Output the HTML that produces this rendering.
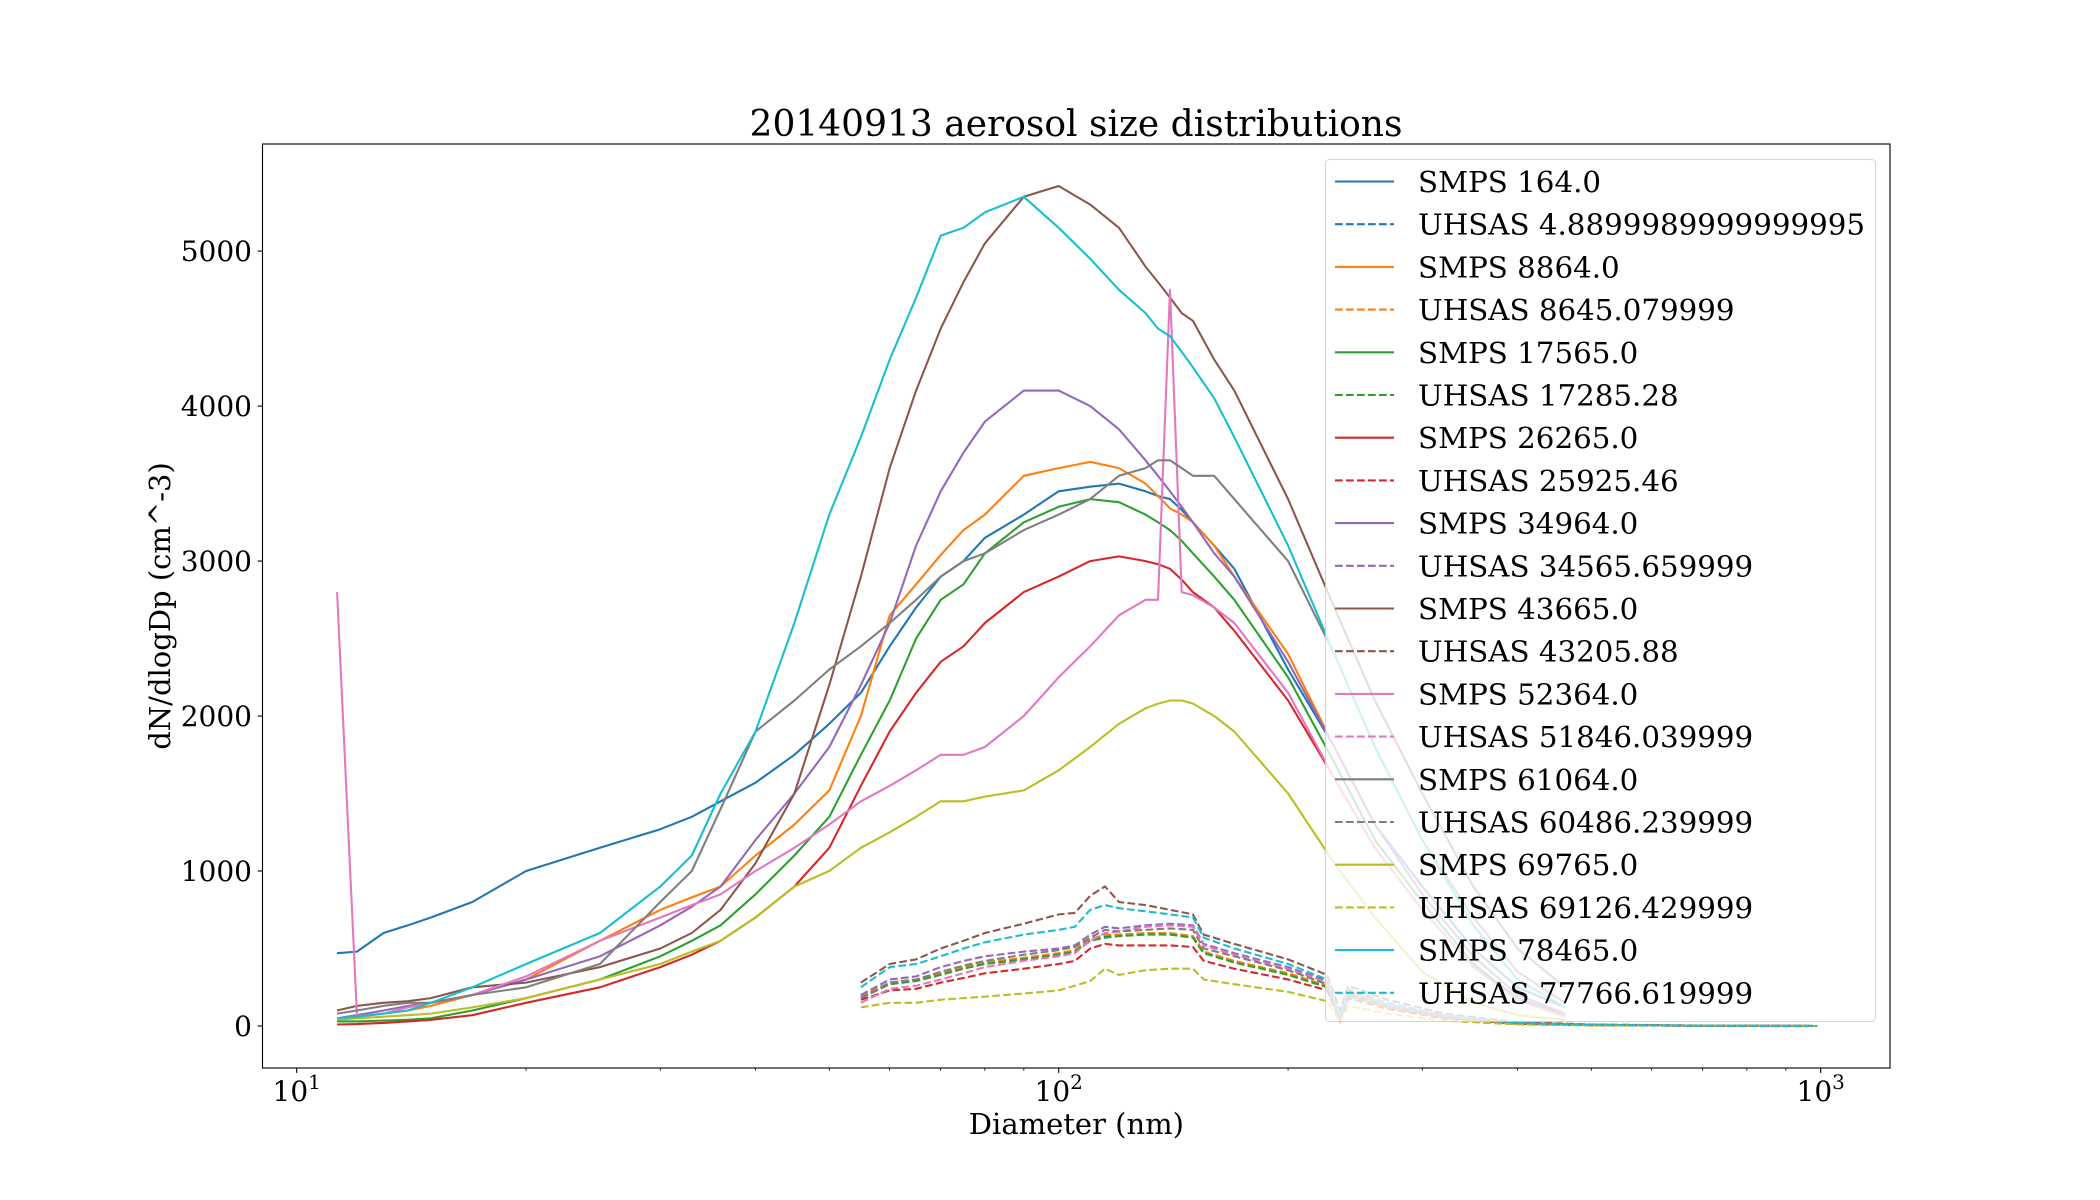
<!DOCTYPE html>
<html><head><meta charset="utf-8"><title>20140913 aerosol size distributions</title>
<style>html,body{margin:0;padding:0;background:#fff}svg{display:block}text{font-family:"DejaVu Serif","Liberation Serif",serif;fill:#000}</style>
</head><body>
<svg id="chart" width="2100" height="1200" viewBox="0 0 2100 1200" xmlns="http://www.w3.org/2000/svg">
<rect x="0" y="0" width="2100" height="1200" fill="#fff"/>
<defs><clipPath id="plotclip"><rect x="262.5" y="144" width="1627.5" height="924"/></clipPath></defs>
<text x="1076" y="136" font-size="36" text-anchor="middle">20140913 aerosol size distributions</text>
<g id="lines" clip-path="url(#plotclip)"></g>
<rect x="262.5" y="144" width="1627.5" height="924" fill="none" stroke="#000" stroke-width="1.1"/>
<g id="xticks"></g>
<g id="yticks"></g>
<text x="1076.4" y="1134" font-size="29" text-anchor="middle">Diameter (nm)</text>
<text x="0" y="0" font-size="29" text-anchor="middle" transform="translate(170,606) rotate(-90)">dN/dlogDp (cm^-3)</text>
<g id="legend"></g>
</svg>
<script>
// SMPS diameters (nm)
const smpsDiam = [11.3,12,13,14,15,17,20,25,30,33,36,40,45,50,55,60,65,70,75,80,90,100,110,120,130,135,140,145,150,160,170,200,230,260,300,350,400,462];
// UHSAS diameters (nm)
const uhsasDiam = [55,60,65,70,75,80,90,100,105,110,115,120,130,140,150,155,170,200,225,234,240,270,320,400,500,700,990];
const seriesNames = ["SMPS 164.0","UHSAS 4.8899989999999995","SMPS 8864.0","UHSAS 8645.079999","SMPS 17565.0","UHSAS 17285.28","SMPS 26265.0","UHSAS 25925.46","SMPS 34964.0","UHSAS 34565.659999","SMPS 43665.0","UHSAS 43205.88","SMPS 52364.0","UHSAS 51846.039999","SMPS 61064.0","UHSAS 60486.239999","SMPS 69765.0","UHSAS 69126.429999","SMPS 78465.0","UHSAS 77766.619999"];
const colors = ["#1f77b4","#ff7f0e","#2ca02c","#d62728","#9467bd","#8c564b","#e377c2","#7f7f7f","#bcbd22","#17becf"];
const smpsBlue   = [470,480,600,650,700,800,1000,1150,1270,1350,1450,1570,1750,1950,2150,2450,2700,2900,3000,3150,3300,3450,3480,3500,3450,3420,3400,3330,3250,3100,2950,2300,1800,1300,900,500,250,120];
const smpsOrange = [50,60,80,100,130,200,300,550,750,830,900,1100,1300,1520,2000,2650,2850,3040,3200,3300,3550,3600,3640,3600,3500,3420,3340,3300,3250,3100,2900,2400,1800,1300,850,450,200,80];
const smpsGreen  = [30,30,35,40,50,100,180,300,450,550,650,850,1100,1350,1750,2100,2500,2750,2850,3050,3250,3350,3400,3380,3300,3250,3200,3130,3050,2900,2750,2250,1700,1200,800,400,180,70];
const smpsRed    = [10,12,20,30,40,70,150,250,380,460,550,700,900,1150,1550,1900,2150,2350,2450,2600,2800,2900,3000,3030,3000,2980,2950,2880,2800,2700,2550,2100,1600,1150,750,380,170,60];
const smpsPurple = [50,70,100,130,150,200,300,450,650,770,900,1200,1500,1800,2200,2600,3100,3450,3700,3900,4100,4100,4000,3850,3650,3550,3450,3350,3250,3050,2900,2350,1800,1300,850,450,200,80];
const smpsBrown  = [100,130,150,160,180,250,280,380,500,600,750,1050,1500,2200,2900,3600,4100,4500,4800,5050,5350,5420,5300,5150,4900,4800,4700,4600,4550,4300,4100,3400,2700,2100,1500,900,500,250];
const smpsPink   = [2800,60,80,120,150,200,320,550,700,780,850,1000,1150,1300,1450,1550,1650,1750,1750,1800,2000,2250,2450,2650,2750,2750,4750,2800,2780,2700,2600,2150,1600,1150,750,380,170,60];
const smpsGray   = [80,100,130,150,150,200,250,400,800,1000,1400,1900,2100,2300,2450,2600,2750,2900,3000,3050,3200,3300,3400,3550,3600,3650,3650,3600,3550,3550,3400,3000,2400,1800,1200,700,350,150];
const smpsOlive  = [40,50,60,70,80,120,180,300,400,480,550,700,900,1000,1150,1250,1350,1450,1450,1480,1520,1650,1800,1950,2050,2080,2100,2100,2080,2000,1900,1500,1050,700,350,150,70,40];
const smpsCyan   = [50,60,80,100,150,250,400,600,900,1100,1500,1900,2600,3300,3800,4300,4700,5100,5150,5250,5350,5150,4950,4750,4600,4500,4450,4350,4250,4050,3800,3100,2400,1800,1200,650,300,120];
const uhsasBlue   = [185,275,295,335,375,405,435,465,485,555,575,585,595,595,575,475,415,335,255,40,198,122,56,16,6,2,0];
const uhsasOrange = [190,280,300,340,380,410,440,470,490,560,590,590,600,600,580,480,420,340,260,40,200,125,55,15,6,2,0];
const uhsasGreen  = [180,270,290,330,370,400,430,460,480,550,570,580,590,590,570,470,410,330,250,40,195,120,55,15,6,2,0];
const uhsasRed    = [170,230,240,280,310,340,370,400,420,500,530,520,520,520,510,420,370,300,230,35,180,110,50,14,5,2,0];
const uhsasPurple = [200,300,320,380,420,450,480,500,520,590,640,630,650,660,650,530,470,380,290,50,230,145,65,20,8,2,0];
const uhsasBrown  = [280,400,430,500,550,600,660,720,730,840,900,800,780,750,720,590,530,430,330,100,260,170,80,25,10,3,0];
const uhsasPink   = [150,240,260,300,340,380,420,450,470,550,600,610,640,650,640,520,460,370,280,50,220,140,65,20,8,2,0];
const uhsasGray   = [180,280,300,350,390,420,460,490,510,570,620,610,620,630,620,500,450,360,270,45,210,130,60,18,7,2,0];
const uhsasOlive  = [120,150,150,170,180,190,210,230,260,290,370,330,360,370,370,300,270,220,160,25,130,80,35,10,4,1,0];
const uhsasCyan   = [250,380,400,450,500,540,590,620,640,750,780,760,740,720,700,570,500,400,300,60,240,150,70,20,8,2,0];
const smpsSeries = [smpsBlue,smpsOrange,smpsGreen,smpsRed,smpsPurple,smpsBrown,smpsPink,smpsGray,smpsOlive,smpsCyan];
const uhsasSeries = [uhsasBlue,uhsasOrange,uhsasGreen,uhsasRed,uhsasPurple,uhsasBrown,uhsasPink,uhsasGray,uhsasOlive,uhsasCyan];
const yTickValues = [0,1000,2000,3000,4000,5000];
const xMajorExps = [1,2,3];

const NS = "http://www.w3.org/2000/svg";
const AX = {l:262.5, r:1890, t:144, b:1068};
const X0 = 296.7, DEC = 762;
const YMIN = -271, YMAX = 5691;
function xPix(d){ return X0 + (Math.log10(d) - 1) * DEC; }
function yPix(v){ return AX.b - (v - YMIN) / (YMAX - YMIN) * (AX.b - AX.t); }
function mk(tag, attrs, parent){ const e = document.createElementNS(NS, tag); for (const k in attrs) e.setAttribute(k, attrs[k]); parent.appendChild(e); return e; }

const gl = document.getElementById("lines");
for (let i = 0; i < 10; i++) {
  const sp = smpsDiam.map((d, j) => xPix(d).toFixed(1) + "," + yPix(smpsSeries[i][j]).toFixed(1)).join(" ");
  const s = mk("polyline", {points: sp, fill: "none", stroke: colors[i], "stroke-width": 2.08, "stroke-linejoin": "round"}, gl);
  
  
  const up = uhsasDiam.map((d, j) => xPix(d).toFixed(1) + "," + yPix(uhsasSeries[i][j]).toFixed(1)).join(" ");
  const u = mk("polyline", {points: up, fill: "none", stroke: colors[i], "stroke-width": 2.08, "stroke-dasharray": "7.7,3.3"}, gl);
  
  
}

const gx = document.getElementById("xticks");
for (const e of xMajorExps) {
  const x = xPix(Math.pow(10, e));
  const t = mk("line", {x1: x, x2: x, y1: AX.b, y2: AX.b + 4.9, stroke: "#000", "stroke-width": 1.1}, gx);
  
  
  const lab = mk("text", {x: x, y: 1101, "font-size": 28, "text-anchor": "middle"}, gx);
  
  
  lab.appendChild(document.createTextNode("10"));
  const sup = mk("tspan", {"font-size": 20, dy: -12}, lab);
  sup.textContent = String(e);
  for (let m = 2; m <= 9; m++) {
    const d = m * Math.pow(10, e);
    const xm = xPix(d);
    if (xm > AX.r || xm < AX.l) continue;
    const mt = mk("line", {x1: xm, x2: xm, y1: AX.b, y2: AX.b + 2.8, stroke: "#000", "stroke-width": 0.8}, gx);
    
    
  }
}
const gy = document.getElementById("yticks");
for (const v of yTickValues) {
  const y = yPix(v);
  const t = mk("line", {x1: AX.l - 4.9, x2: AX.l, y1: y, y2: y, stroke: "#000", "stroke-width": 1.1}, gy);
  
  
  const lab = mk("text", {x: AX.l - 10.5, y: y + 10, "font-size": 28, "text-anchor": "end"}, gy);
  
  
  lab.textContent = String(v);
}

const lg = document.getElementById("legend");
const box = mk("rect", {x: 1325.5, y: 159.5, width: 550, height: 862, rx: 4, fill: "#fff", "fill-opacity": 0.8, stroke: "#ccc", "stroke-opacity": 0.8, "stroke-width": 1.1}, lg);


for (let k = 0; k < seriesNames.length; k++) {
  const cy = 181.5 + k * 42.7;
  const col = colors[Math.floor(k / 2)];
  const h = mk("line", {x1: 1335, x2: 1394, y1: cy, y2: cy, stroke: col, "stroke-width": 2.08}, lg);
  if (k % 2 === 1) h.setAttribute("stroke-dasharray", "7.7,3.3");
  
  
  const tx = mk("text", {x: 1418, y: cy + 10.5, "font-size": 29.3}, lg);
  
  
  tx.textContent = seriesNames[k];
}
</script>
</body></html>
